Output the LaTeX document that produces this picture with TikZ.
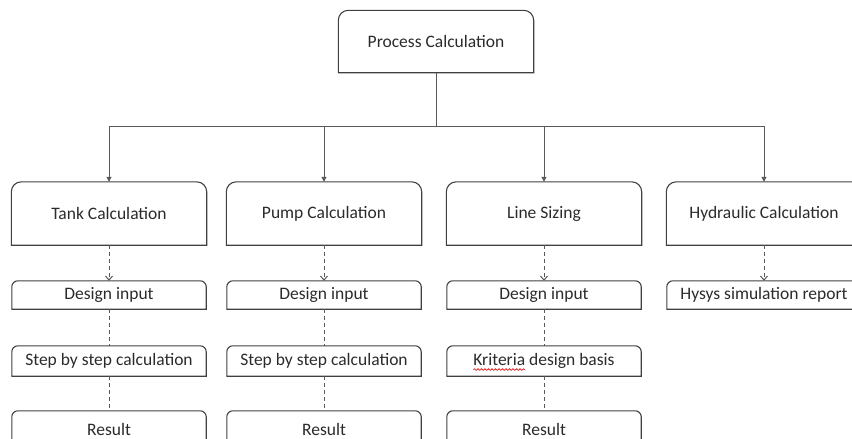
\documentclass[tikz,border=0pt]{standalone}
\usepackage{fontspec}
\setmainfont{Carlito}
\usetikzlibrary{arrows.meta,decorations.pathmorphing}

\definecolor{boxedge}{HTML}{404040}
\definecolor{connline}{HTML}{595959}
\definecolor{labeltext}{HTML}{2B2B2B}
\definecolor{spellred}{HTML}{E03030}

\newlength{\kriwidth}

\tikzset{
  label font/.style={font=\fontsize{17.5}{21}\selectfont, text=labeltext},
  bigbox/.style={label font, minimum width=195pt, minimum height=62pt, inner sep=0pt},
  smallbox/.style={label font, minimum width=194pt, minimum height=#1, inner sep=0pt},
  outline/.style={draw=boxedge, line width=1.1pt},
  feed/.style={draw=connline, line width=1pt, -{Triangle[length=5pt,width=5pt]}},
  dashfeed/.style={draw=connline, line width=1pt, dash pattern=on 4pt off 3pt,
                   -{Straight Barb[length=4pt,width=7pt,line width=1pt]}},
  dashlink/.style={draw=connline, line width=1pt, dash pattern=on 4pt off 3pt},
  squiggle/.style={draw=spellred, line width=0.8pt, decorate,
                   decoration={snake, amplitude=0.8pt, segment length=3.5pt}}
}

\begin{document}
\settowidth{\kriwidth}{\fontsize{17.5}{21}\selectfont Kriteria}%
\begin{tikzpicture}[x=1pt, y=-1pt]
  \useasboundingbox (0,0) rectangle (852,439);
  \clip (0,0) rectangle (852,439);

  % top level
  \node[bigbox] (proc) at (436,41.5) {Process Calculation};

  % second level
  \node[bigbox, minimum height=63pt] (tank) at (109,213.5) {Tank Calculation};
  \node[bigbox, minimum height=63pt] (pump) at (324,213.5) {Pump Calculation};
  \node[bigbox, minimum height=63pt] (line) at (544,213.5) {Line Sizing};
  \node[bigbox, minimum height=63pt] (hyd)  at (764,213.5) {Hydraulic Calculation};

  % detail boxes
  \node[smallbox=28pt] (tankin)  at (109,295) {Design input};
  \node[smallbox=30pt] (tankstep) at (109,361) {Step by step calculation};
  \node[smallbox=36pt] (tankres) at (109,429) {Result};

  \node[smallbox=28pt] (pumpin)  at (324,295) {Design input};
  \node[smallbox=30pt] (pumpstep) at (324,361) {Step by step calculation};
  \node[smallbox=36pt] (pumpres) at (324,429) {Result};

  \node[smallbox=28pt] (linein)  at (544,295) {Design input};
  \node[smallbox=30pt] (linecrit) at (544,361) {Kriteria design basis};
  \node[smallbox=36pt] (lineres) at (544,429) {Result};

  \node[smallbox=28pt] (hydin) at (764,295) {Hysys simulation report};

  % spell-check underline below the first word
  \coordinate (krileft) at ([yshift=-4pt]linecrit.text);
  \coordinate (kriright) at ([xshift=\kriwidth]krileft);
  \draw[squiggle] (krileft) -- (kriright);

  % outlines: rounded top corners, square bottom corners
  \foreach \n/\r in {proc/10pt, tank/10pt, pump/10pt, line/10pt, hyd/10pt,
                     tankin/6pt, tankstep/6pt, tankres/6pt,
                     pumpin/6pt, pumpstep/6pt, pumpres/6pt,
                     linein/6pt, linecrit/6pt, lineres/6pt, hydin/6pt}
    \draw[outline] (\n.south west) [rounded corners=\r] -- (\n.north west)
      -- (\n.north east) [sharp corners] -- (\n.south east) -- cycle;

  % tree connectors
  \coordinate (bus) at (436,126.5);
  \foreach \c in {tank, pump, line, hyd}
    \draw[feed] (proc.south) -- (bus) -| (\c.north);

  % column connectors
  \foreach \a/\b in {tank/tankin, pump/pumpin, line/linein, hyd/hydin}
    \draw[dashfeed] (\a.south) -- (\b.north);
  \foreach \a/\b in {tankin/tankstep, tankstep/tankres,
                     pumpin/pumpstep, pumpstep/pumpres,
                     linein/linecrit, linecrit/lineres}
    \draw[dashlink] (\a.south) -- (\b.north);
\end{tikzpicture}
\end{document}
